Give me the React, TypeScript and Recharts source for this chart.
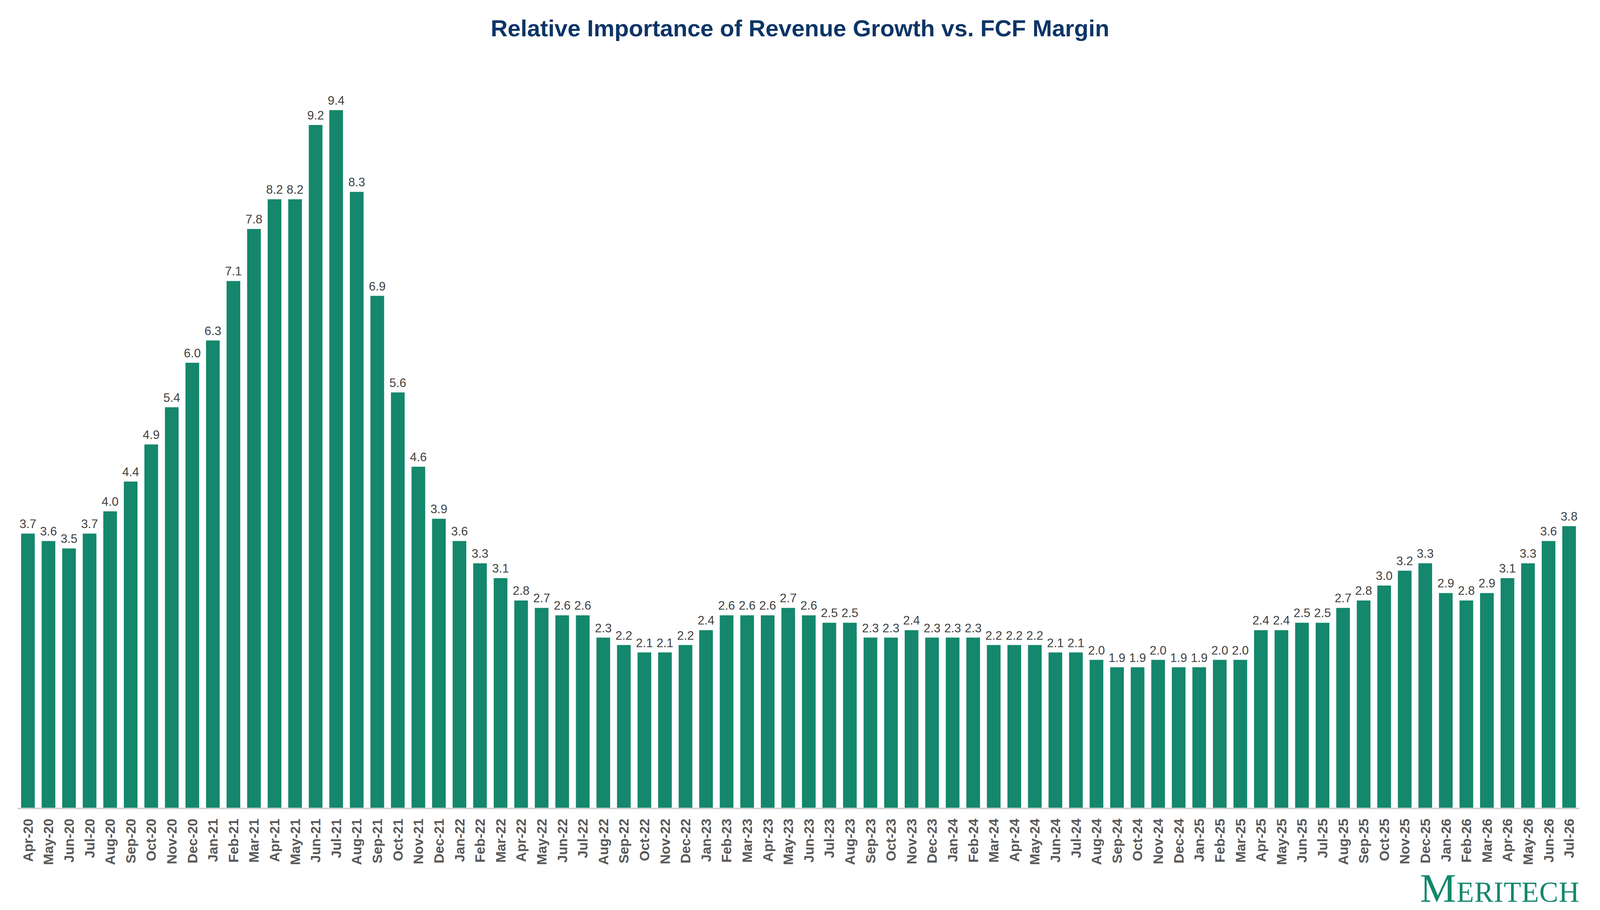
import React from "react"
import { BarChart, Bar, XAxis, YAxis, LabelList } from "recharts"

const months = [
  "Apr-20","May-20","Jun-20","Jul-20","Aug-20","Sep-20","Oct-20","Nov-20","Dec-20",
  "Jan-21","Feb-21","Mar-21","Apr-21","May-21","Jun-21","Jul-21","Aug-21","Sep-21","Oct-21","Nov-21","Dec-21",
  "Jan-22","Feb-22","Mar-22","Apr-22","May-22","Jun-22","Jul-22","Aug-22","Sep-22","Oct-22","Nov-22","Dec-22",
  "Jan-23","Feb-23","Mar-23","Apr-23","May-23","Jun-23","Jul-23","Aug-23","Sep-23","Oct-23","Nov-23","Dec-23",
  "Jan-24","Feb-24","Mar-24","Apr-24","May-24","Jun-24","Jul-24","Aug-24","Sep-24","Oct-24","Nov-24","Dec-24",
  "Jan-25","Feb-25","Mar-25","Apr-25","May-25","Jun-25","Jul-25","Aug-25","Sep-25","Oct-25","Nov-25","Dec-25",
  "Jan-26","Feb-26","Mar-26","Apr-26","May-26","Jun-26","Jul-26",
]

const ratio = [
  3.7, 3.6, 3.5, 3.7, 4.0, 4.4, 4.9, 5.4, 6.0,
  6.3, 7.1, 7.8, 8.2, 8.2, 9.2, 9.4, 8.3, 6.9, 5.6, 4.6, 3.9,
  3.6, 3.3, 3.1, 2.8, 2.7, 2.6, 2.6, 2.3, 2.2, 2.1, 2.1, 2.2,
  2.4, 2.6, 2.6, 2.6, 2.7, 2.6, 2.5, 2.5, 2.3, 2.3, 2.4, 2.3,
  2.3, 2.3, 2.2, 2.2, 2.2, 2.1, 2.1, 2.0, 1.9, 1.9, 2.0, 1.9,
  1.9, 2.0, 2.0, 2.4, 2.4, 2.5, 2.5, 2.7, 2.8, 3.0, 3.2, 3.3,
  2.9, 2.8, 2.9, 3.1, 3.3, 3.6, 3.8,
]

const data = months.map((m, i) => ({ m, v: ratio[i] }))

// the page is photographed 4096 wide
const W = 4096
const H = 2330

function MonthTick({ x, y, payload }: any) {
  return (
    <text x={x} y={y + 18} transform={`rotate(-90, ${x}, ${y + 18})`} textAnchor="end"
      dominantBaseline="central" fontSize={35} fontWeight="bold" fill="#595959"
      fontFamily="'Liberation Sans', Arial, sans-serif">
      {payload.value}
    </text>
  )
}

export default function App() {
  return (
    <div style={{ position: "absolute", left: 0, top: 0, width: W, height: H, background: "#fff" }}>
      <div style={{
        position: "absolute", top: 38, width: W, textAlign: "center",
        fontFamily: "'Liberation Sans', Arial, sans-serif", fontWeight: "bold",
        fontSize: 60, color: "#0d3566",
      }}>
        Relative Importance of Revenue Growth vs. FCF Margin
      </div>
      <BarChart width={W} height={H} data={data} barSize={35}
        margin={{ top: 282, right: 53, bottom: 0, left: 45 }}>
        <XAxis dataKey="m" interval={0} height={260} tickLine={false}
          axisLine={{ stroke: "#d0d0d0", strokeWidth: 4 }} tick={<MonthTick />} />
        <YAxis hide domain={[0, 9.4]} />
        <Bar dataKey="v" fill="#14876c" isAnimationActive={false}>
          <LabelList dataKey="v" position="top" offset={14}
            formatter={(v: any) => Number(v).toFixed(1)}
            style={{ fontSize: 31, fill: "#404040", fontFamily: "'Liberation Sans', Arial, sans-serif" }} />
        </Bar>
      </BarChart>
      <div style={{
        position: "absolute", right: 52, top: 2222, fontFamily: "'Liberation Serif', 'DejaVu Serif', serif",
        fontVariant: "small-caps", fontSize: 104, color: "#14876c", lineHeight: 1, letterSpacing: 1,
      }}>
        Meritech
      </div>
    </div>
  )
}
